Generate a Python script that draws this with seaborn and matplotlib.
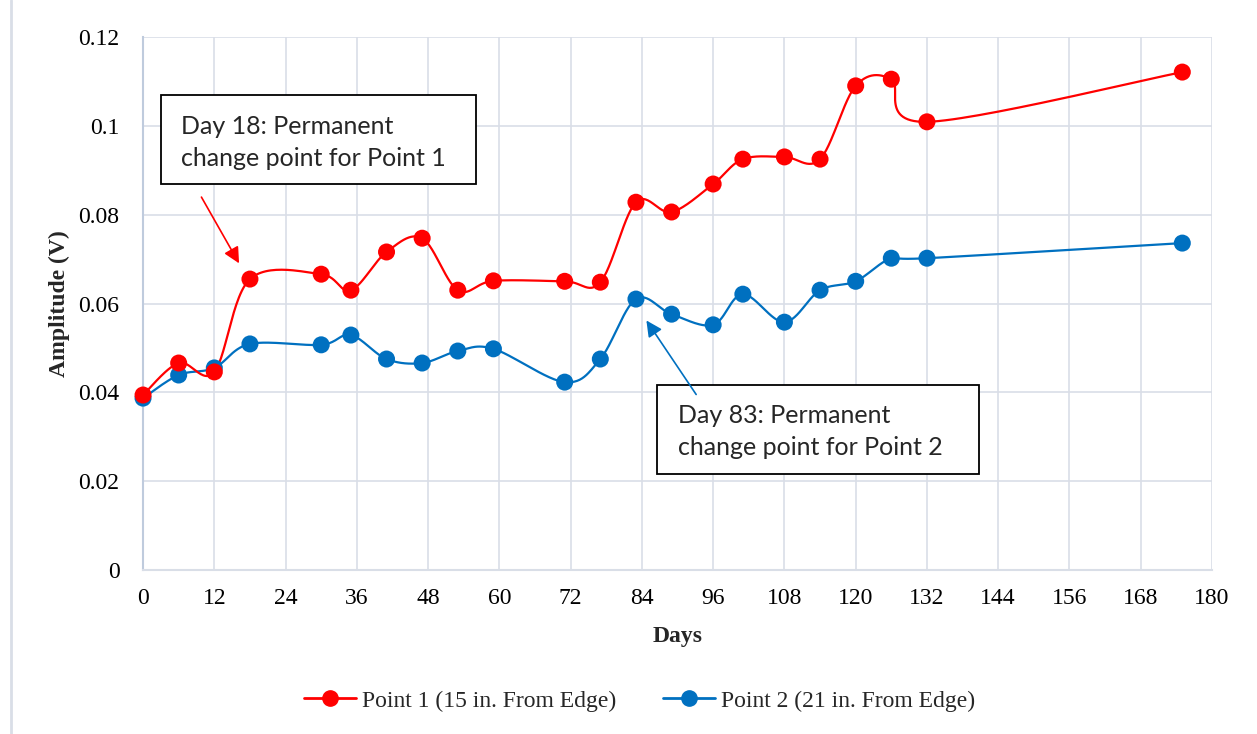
import numpy as np
import pandas as pd
import matplotlib
matplotlib.use("Agg")
import matplotlib.pyplot as plt
from matplotlib.lines import Line2D
from matplotlib.patches import Rectangle
import seaborn as sns

# data
days = [0, 6, 12, 18, 30, 35, 41, 47, 53, 59, 71, 77, 83, 89, 96, 101, 108, 114, 120, 126, 132, 175]
point1 = [0.0394, 0.0466, 0.0446, 0.0655, 0.0666, 0.0630, 0.0716, 0.0747, 0.0630, 0.0651, 0.0650,
          0.0648, 0.0828, 0.0806, 0.0869, 0.0925, 0.0930, 0.0925, 0.1090, 0.1105, 0.1009, 0.1121]
point2 = [0.0387, 0.0439, 0.0455, 0.0509, 0.0507, 0.0529, 0.0475, 0.0466, 0.0493, 0.0498, 0.0423,
          0.0475, 0.0610, 0.0576, 0.0552, 0.0621, 0.0558, 0.0630, 0.0650, 0.0702, 0.0702, 0.0736]
labels = ["Point 1 (15 in. From Edge)", "Point 2 (21 in. From Edge)"]
colors = ["#FF0000", "#0070C0"]
x_ticks = list(range(0, 181, 12))
y_ticks = [0, 0.02, 0.04, 0.06, 0.08, 0.1, 0.12]
y_tick_labels = ["0", "0.02", "0.04", "0.06", "0.08", "0.1", "0.12"]


def smooth(x, y, n=30):
    # Excel-style smoothed line: cubic Bezier segments with Catmull-Rom control points
    x = np.asarray(x, float)
    y = np.asarray(y, float)
    px = np.concatenate([[x[0]], x, [x[-1]]])
    py = np.concatenate([[y[0]], y, [y[-1]]])
    t = np.linspace(0, 1, n)
    xs, ys = [], []
    for i in range(1, len(px) - 2):
        p0 = np.array([px[i], py[i]])
        p3 = np.array([px[i + 1], py[i + 1]])
        c1 = p0 + (np.array([px[i + 1], py[i + 1]]) - np.array([px[i - 1], py[i - 1]])) / 6
        c2 = p3 - (np.array([px[i + 2], py[i + 2]]) - np.array([px[i], py[i]])) / 6
        pts = ((1 - t) ** 3)[:, None] * p0 + (3 * (1 - t) ** 2 * t)[:, None] * c1 \
            + (3 * (1 - t) * t ** 2)[:, None] * c2 + (t ** 3)[:, None] * p3
        xs.extend(pts[:, 0])
        ys.extend(pts[:, 1])
    return np.array(xs), np.array(ys)


sns.set_style("white")
plt.rcParams["font.family"] = ["Liberation Serif", "DejaVu Serif"]

fig = plt.figure(figsize=(12.57, 7.34), dpi=100)
ax = fig.add_axes([0.1138, 0.2234, 0.8504, 0.7262])

for vals, c in zip([point2, point1], [colors[1], colors[0]]):
    sx, sy = smooth(days, vals)
    curve = pd.DataFrame({"x": sx, "y": sy})
    sns.lineplot(data=curve, x="x", y="y", sort=False, color=c, linewidth=1.6,
                 ax=ax, legend=False, zorder=3)
    pts = pd.DataFrame({"x": days, "y": vals})
    sns.scatterplot(data=pts, x="x", y="y", color=c, s=150, edgecolor="none",
                    ax=ax, legend=False, zorder=4, clip_on=False)

ax.set_xlim(0, 180)
ax.set_ylim(0, 0.12)
ax.set_xticks(x_ticks)
ax.set_yticks(y_ticks)
ax.set_yticklabels(y_tick_labels)
ax.tick_params(axis="both", labelsize=17, length=0, colors="black")
ax.tick_params(axis="x", pad=13)
ax.tick_params(axis="y", pad=17)
ax.grid(True, color="#D9DEE7", linewidth=1.2)
ax.set_axisbelow(True)
for s in ["top", "right"]:
    ax.spines[s].set_visible(False)
ax.spines["left"].set_color("#BFCBDD")
ax.spines["left"].set_linewidth(1.5)
ax.spines["bottom"].set_color("#D9DEE7")
ax.spines["bottom"].set_linewidth(1.5)

ax.set_xlabel("Days", fontsize=17, fontweight="bold", labelpad=12)
ax.set_ylabel("Amplitude (V)", fontsize=17, fontweight="bold", labelpad=6)

# annotation boxes
box_font = ["Lato", "DejaVu Sans"]
ax.add_patch(Rectangle((3.0, 0.0869), 53.1, 0.0200, fill=True, facecolor="white",
                       edgecolor="black", linewidth=1.3, zorder=5))
ax.text(6.4, 0.0963, "Day 18: Permanent\nchange point for Point 1", family=box_font,
        fontsize=18, va="center", ha="left", linespacing=1.5, zorder=6)
ax.annotate("", xy=(16.4, 0.0685), xytext=(9.6, 0.0845),
            arrowprops=dict(arrowstyle="-|>", color=colors[0], lw=1.2, mutation_scale=24),
            zorder=6)

ax.add_patch(Rectangle((86.6, 0.0216), 54.2, 0.0200, fill=True, facecolor="white",
                       edgecolor="black", linewidth=1.3, zorder=5))
ax.text(90.0, 0.0312, "Day 83: Permanent\nchange point for Point 2", family=box_font,
        fontsize=18, va="center", ha="left", linespacing=1.5, zorder=6)
ax.annotate("", xy=(84.5, 0.0567), xytext=(93.4, 0.0390),
            arrowprops=dict(arrowstyle="-|>", color=colors[1], lw=1.2, mutation_scale=24),
            zorder=6)

handles = [Line2D([0], [0], color=c, lw=2, marker="o", markersize=11) for c in colors]
fig.legend(handles, labels, loc="center", bbox_to_anchor=(0.509, 0.045), ncol=2, frameon=False,
           fontsize=17, handlelength=2.2, handletextpad=0.25, columnspacing=2.0)

fig.add_artist(Line2D([11 / 1257, 11 / 1257], [0, 1], color="#D9DEE7", lw=2))

fig.savefig("out.png", dpi=100)
